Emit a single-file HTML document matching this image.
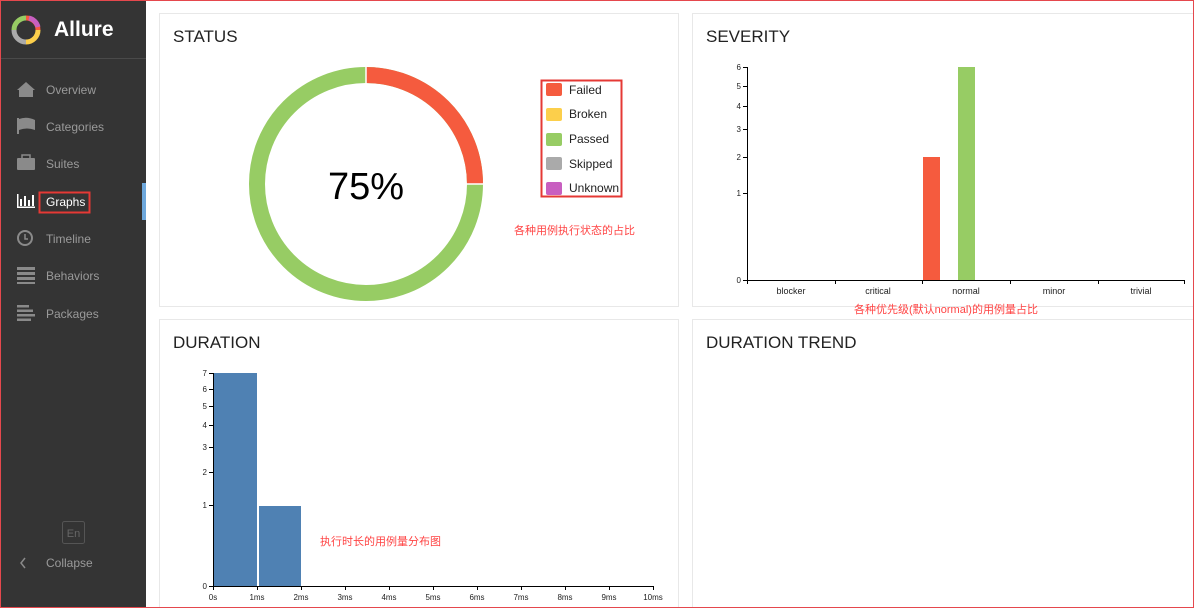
<!DOCTYPE html>
<html><head><meta charset="utf-8"><style>
html,body{margin:0;padding:0;width:1194px;height:608px;overflow:hidden;background:#fff;font-family:"Liberation Sans","Noto Sans CJK SC",sans-serif;}
</style></head><body>
<svg width="1194" height="608" xmlns="http://www.w3.org/2000/svg" font-family="Liberation Sans, Noto Sans CJK SC, sans-serif">
<rect x="0" y="0" width="1194" height="608" fill="#fff"/>
<!-- sidebar -->
<rect x="0" y="0" width="146" height="608" fill="#343434"/>
<line x1="0" y1="58.5" x2="146" y2="58.5" stroke="#4a4a4a"/>
<g transform="translate(26,30)">
<path d="M0,-12 A12,12 0 0 1 12,0" stroke="#f55b3e" stroke-width="5" fill="none"/>
<path d="M12,0 A12,12 0 0 1 0,12" stroke="#fccf4b" stroke-width="5" fill="none"/>
<path d="M0,12 A12,12 0 0 1 -12,0" stroke="#aaa" stroke-width="5" fill="none"/>
<path d="M-12,0 A12,12 0 0 1 0,-12" stroke="#97cc64" stroke-width="5" fill="none"/>
<path d="M3,-12 A12,12 0 0 1 12,-3" stroke="#c85fc0" stroke-width="5" fill="none"/>
</g>
<text x="54" y="36" font-size="21" font-weight="bold" fill="#fff">Allure</text>
<g font-size="12" fill="#9a9a9a">
<text x="46" y="94">Overview</text>
<text x="46" y="131">Categories</text>
<text x="46" y="168">Suites</text>
<text x="46" y="206" fill="#fff">Graphs</text>
<text x="46" y="243">Timeline</text>
<text x="46" y="280">Behaviors</text>
<text x="46" y="318">Packages</text>
<text x="46" y="567">Collapse</text>
</g>
<g fill="#8a8a8a">
<path d="M17,90 L26,82 L35,90 L33,90 L33,97 L19,97 L19,90 Z"/>
<rect x="17" y="118" width="2" height="16"/><path d="M19,119 Q27,116 35,120 L35,130 Q27,127 19,130 Z"/>
<rect x="17" y="158" width="18" height="12" rx="1"/><rect x="22" y="155" width="8" height="4" fill="none" stroke="#8a8a8a" stroke-width="1.5"/>
<circle cx="25" cy="238" r="7" fill="none" stroke="#8a8a8a" stroke-width="2"/><path d="M25,234 V239 H28" stroke="#8a8a8a" stroke-width="1.5" fill="none"/>
<rect x="17" y="267" width="18" height="3"/><rect x="17" y="272" width="18" height="3"/><rect x="17" y="277" width="18" height="3"/><rect x="17" y="282" width="18" height="2"/>
<rect x="17" y="305" width="12" height="2.5"/><rect x="17" y="309.5" width="16" height="2.5"/><rect x="17" y="314" width="18" height="2.5"/><rect x="17" y="318.5" width="14" height="2.5"/>
</g>
<g fill="#fff"><rect x="17" y="194" width="1.5" height="14"/><rect x="17" y="206.5" width="18" height="1.5"/><rect x="20" y="199" width="2" height="7"/><rect x="24" y="196" width="2" height="10"/><rect x="28" y="200" width="2" height="6"/><rect x="32" y="195" width="2" height="11"/></g>
<rect x="39.5" y="192.5" width="50" height="20" fill="none" stroke="#e53935" stroke-width="2"/>
<rect x="142" y="183" width="4" height="37" fill="#6ea8dc"/>
<rect x="62.5" y="521.5" width="22" height="22" rx="2" fill="none" stroke="#555"/>
<text x="73.5" y="537" font-size="11" fill="#666" text-anchor="middle">En</text>
<path d="M25,558 L21,563 L25,568" stroke="#8a8a8a" stroke-width="1.5" fill="none"/>
<!-- panels -->
<g fill="#fff" stroke="#e8e8e8">
<rect x="159.5" y="13.5" width="519" height="293"/>
<rect x="692.5" y="13.5" width="510" height="293"/>
<rect x="159.5" y="319.5" width="519" height="300"/>
<rect x="692.5" y="319.5" width="510" height="300"/>
</g>
<g font-size="17" fill="#222">
<text x="173" y="42">STATUS</text>
<text x="706" y="42">SEVERITY</text>
<text x="173" y="348">DURATION</text>
<text x="706" y="348">DURATION TREND</text>
</g>
<!-- donut -->
<circle cx="366" cy="184" r="109" fill="none" stroke="#97cc64" stroke-width="16"/>
<path d="M366,75 A109,109 0 0 1 475,184" fill="none" stroke="#f55b3e" stroke-width="16"/>
<line x1="366" y1="66" x2="366" y2="84" stroke="#fff" stroke-width="1.5"/>
<line x1="466" y1="184" x2="484" y2="184" stroke="#fff" stroke-width="1.5"/>
<text x="366" y="199" font-size="38" text-anchor="middle" fill="#000">75%</text>
<rect x="541.5" y="80.5" width="80" height="116" fill="none" stroke="#e53935" stroke-width="2"/>
<g font-size="12" fill="#222">
<rect x="546" y="83" width="16" height="13" rx="2" fill="#f55b3e"/><text x="569" y="94">Failed</text>
<rect x="546" y="108" width="16" height="13" rx="2" fill="#fccf4b"/><text x="569" y="118">Broken</text>
<rect x="546" y="133" width="16" height="13" rx="2" fill="#97cc64"/><text x="569" y="143">Passed</text>
<rect x="546" y="157" width="16" height="13" rx="2" fill="#aaa"/><text x="569" y="168">Skipped</text>
<rect x="546" y="182" width="16" height="13" rx="2" fill="#c85fc0"/><text x="569" y="192">Unknown</text>
</g>
<text x="514" y="234" font-size="11" fill="#f44">各种用例执行状态的占比</text>
<!-- severity -->
<g stroke="#000" fill="none">
<path d="M743,67.5 H747.5 V280.5 H1184.5 V284"/>
<path d="M743,86.5 H747 M743,106.5 H747 M743,129.5 H747 M743,157.5 H747 M743,193.5 H747 M743,280.5 H747"/>
<path d="M835.5,280 V284 M922.5,280 V284 M1010.5,280 V284 M1098.5,280 V284 M747.5,280 V284"/>
</g>
<g font-size="8" fill="#222" text-anchor="end">
<text x="741" y="70">6</text><text x="741" y="89">5</text><text x="741" y="109">4</text><text x="741" y="132">3</text><text x="741" y="160">2</text><text x="741" y="196">1</text><text x="741" y="283">0</text>
</g>
<g font-size="9" fill="#222" text-anchor="middle">
<text x="791" y="294">blocker</text><text x="878" y="294">critical</text><text x="966" y="294">normal</text><text x="1054" y="294">minor</text><text x="1141" y="294">trivial</text>
</g>
<rect x="923" y="157" width="17" height="123" fill="#f55b3e"/>
<rect x="958" y="67" width="17" height="213" fill="#97cc64"/>
<text x="854" y="313" font-size="11" fill="#f44">各种优先级(默认normal)的用例量占比</text>
<!-- duration -->
<rect x="214" y="373" width="43" height="213" fill="#4f81b3"/>
<rect x="259" y="506" width="42" height="80" fill="#4f81b3"/>
<g stroke="#000" fill="none">
<path d="M209,373.5 H213.5 V586.5 H653.5 V590"/>
<path d="M209,389.5 H213 M209,406.5 H213 M209,425.5 H213 M209,447.5 H213 M209,472.5 H213 M209,505.5 H213 M209,586.5 H213"/>
<path d="M213.5,586 V590 M257.5,586 V590 M301.5,586 V590 M345.5,586 V590 M389.5,586 V590 M433.5,586 V590 M477.5,586 V590 M521.5,586 V590 M565.5,586 V590 M609.5,586 V590"/>
</g>
<g font-size="8" fill="#222" text-anchor="end">
<text x="207" y="376">7</text><text x="207" y="392">6</text><text x="207" y="409">5</text><text x="207" y="428">4</text><text x="207" y="450">3</text><text x="207" y="475">2</text><text x="207" y="508">1</text><text x="207" y="589">0</text>
</g>
<g font-size="8" fill="#222" text-anchor="middle">
<text x="213" y="600">0s</text><text x="257" y="600">1ms</text><text x="301" y="600">2ms</text><text x="345" y="600">3ms</text><text x="389" y="600">4ms</text><text x="433" y="600">5ms</text><text x="477" y="600">6ms</text><text x="521" y="600">7ms</text><text x="565" y="600">8ms</text><text x="609" y="600">9ms</text><text x="653" y="600">10ms</text>
</g>
<text x="320" y="545" font-size="11" fill="#f44">执行时长的用例量分布图</text>
<rect x="0.5" y="0.5" width="1193" height="607" fill="none" stroke="#e5484d"/>
</svg>
</body></html>
